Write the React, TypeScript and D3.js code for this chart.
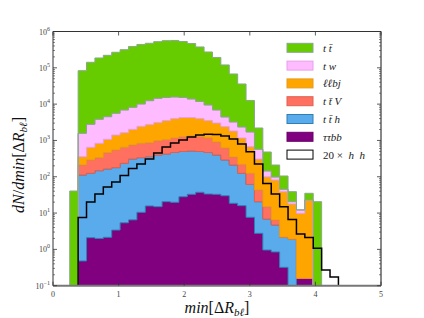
import React from "react";
import * as d3 from "d3";

// histogram binning of min[dR_bl]
const binStart = 0.255;
const binWidth = 0.128;
const nBins = 32;

// stacked backgrounds, one value per bin (bottom to top of the stack)
const tautaubb = [0, 0.48, 2.1, 2.0, 2.15, 3.4, 5.4, 6.5, 10.5, 15.7, 15, 20.6, 19.8, 28.2, 32.9, 37.3, 33.5, 32.9, 30, 18.6, 16, 7.65, 2.77, 0.96, 0.85, 0.32, 0, 0.16, 0.16, 0, 0, 0];
const tth = [0, 111.5, 123, 145, 162, 175, 230, 302, 325, 341, 383, 403, 446, 469, 480, 460, 432, 365, 260, 192, 109, 54, 17.8, 5.9, 3.85, 1.87, 1.93, 0, 0, 0, 0, 0];
const ttV = [0, 99, 165, 188, 296, 368, 413, 442, 500, 510, 587, 638, 703, 788, 814, 788, 703, 509, 330, 139, 95, 63, 22.6, 8.1, 1.75, 0, 0, 0, 0, 0, 0, 0];
const llbj = [0, 146, 358, 500, 616, 867, 989, 1278, 1620, 1887, 2141, 2486, 2858, 3000, 2958, 2742, 2379, 2120, 1803, 1473, 949, 548, 265, 85, 75, 36.6, 15.9, 9.7, 22.7, 0, 0, 0];
const tw = [0, 1217, 2138, 2993, 3434, 4185, 5265, 6157, 7635, 9696, 11360, 11690, 11710, 10955, 9585, 7803, 5932, 3875, 2003, 1401, 1181, 1037, 263, 44, 17, 6.4, 2.8, 2.34, 0, 0, 0, 0];
const ttbar = [40.5, 81800, 139200, 182800, 216500, 262400, 309100, 378800, 430000, 461600, 510500, 543800, 550300, 515800, 454100, 363200, 263500, 186100, 115600, 64400, 33550, 10900, 1632, 337, 112, 59.8, 18.2, 0, 12.2, 20.6, 0, 0];

// signal, already scaled by 20
const hh20 = [0, 7.55, 20.2, 33.5, 52.2, 71.8, 108, 169, 225, 308, 452, 661, 851, 1030, 1245, 1413, 1479, 1459, 1327, 1097, 800, 490, 225, 65.3, 33.5, 15, 6.65, 2.65, 2.12, 1.07, 0.27, 0.174];

const xTicks = [0, 1, 2, 3, 4, 5];
const yExponents = [-1, 0, 1, 2, 3, 4, 5, 6];

const series = [
  { key: "tautaubb", values: tautaubb, fill: "#800080", stroke: "#6a006a" },
  { key: "tth", values: tth, fill: "#5aabeb", stroke: "#2f7fb5" },
  { key: "ttV", values: ttV, fill: "#ff7060", stroke: "#e06050" },
  { key: "llbj", values: llbj, fill: "#ffa500", stroke: "#e69a20" },
  { key: "tw", values: tw, fill: "#ffbbff", stroke: "#e8a0e8" },
  { key: "ttbar", values: ttbar, fill: "#66cc00", stroke: "#8aa88a" },
];

const serif = "'Liberation Serif', 'DejaVu Serif', serif";
const DELTA = "\u0394";
const ELL = "\u2113";
const NB = "\u00a0";

export default function App() {
  const width = 424;
  const height = 318;
  const plot = { left: 53, right: 381, top: 31.5, bottom: 285.7 };

  const x = d3.scaleLinear().domain([0, 5]).range([plot.left, plot.right]);
  const y = d3.scaleLog().domain([0.1, 1e6]).range([plot.bottom, plot.top]);
  const yc = (v: number) => y(Math.max(v, 0.1));

  const edges = d3.range(nBins + 1).map((i) => binStart + i * binWidth);
  const rows = d3.range(nBins).map((i) => {
    const r: any = {};
    series.forEach((s) => (r[s.key] = s.values[i]));
    return r;
  });
  const stacked = d3.stack().keys(series.map((s) => s.key))(rows);

  const area = d3
    .area<any>()
    .curve(d3.curveStepAfter)
    .x((d) => x(d.x))
    .y0((d) => yc(d.y0))
    .y1((d) => yc(d.y1));

  const layers = stacked.map((layer, li) => {
    const pts = layer.map((s, i) => ({ x: edges[i], y0: s[0], y1: s[1] }));
    const last = pts[pts.length - 1];
    pts.push({ x: edges[nBins], y0: last.y0, y1: last.y1 });
    return { d: area(pts) as string, ...series[li] };
  });

  // hh step outline
  const first = hh20.findIndex((v) => v > 0);
  let hhPath = `M${x(edges[first])},${y(0.1)}`;
  for (let k = first; k < nBins; k++) {
    hhPath += `V${yc(hh20[k])}H${x(edges[k + 1])}`;
  }
  hhPath += `V${y(0.1)}`;

  const minorTicks: number[] = [];
  yExponents.slice(0, -1).forEach((e) => {
    for (let m = 2; m <= 9; m++) minorTicks.push(m * Math.pow(10, e));
  });

  const legend = [
    { fill: "#66cc00", stroke: "#8aa88a", label: [["t" + NB + "t\u0304", true]] },
    { fill: "#ffbbff", stroke: "#e8a0e8", label: [["t" + NB + "w", true]] },
    { fill: "#ffa500", stroke: "#e69a20", label: [[ELL + ELL + "bj", true]] },
    { fill: "#ff7060", stroke: "#e06050", label: [["t" + NB + "t\u0304" + NB + "V", true]] },
    { fill: "#5aabeb", stroke: "#2f7fb5", label: [["t" + NB + "t\u0304" + NB + "h", true]] },
    { fill: "#800080", stroke: "#6a006a", label: [["\u03c4\u03c4bb", true]] },
    { fill: "#ffffff", stroke: "#000000", label: [["20" + NB + "\u00d7" + NB + NB, false], ["h" + NB + NB + "h", true]] },
  ];

  return (
    <svg
      width={width}
      height={height}
      style={{ position: "absolute", left: 0, top: 0, background: "#fff" }}
      fontFamily={serif}
    >
      <defs>
        <clipPath id="plotClip">
          <rect x={plot.left} y={plot.top} width={plot.right - plot.left} height={plot.bottom - plot.top} />
        </clipPath>
      </defs>

      <g clipPath="url(#plotClip)">
        {layers.map((l) => (
          <path key={l.key} d={l.d} fill={l.fill} stroke={l.stroke} strokeWidth={1} />
        ))}
        <path d={hhPath} fill="none" stroke="#000" strokeWidth={1.5} />
      </g>

      {/* frame */}
      <line x1={plot.left} x2={plot.right} y1={plot.top} y2={plot.top} stroke="#333" strokeWidth={1} />
      <line x1={plot.left} x2={plot.left} y1={plot.top} y2={plot.bottom} stroke="#333" strokeWidth={1} />
      <line x1={plot.right} x2={plot.right} y1={plot.top} y2={plot.bottom} stroke="#111" strokeWidth={1} />
      <line x1={plot.left} x2={plot.right} y1={plot.bottom} y2={plot.bottom} stroke="#777" strokeWidth={2} />

      {/* x ticks */}
      {xTicks.map((t) => (
        <g key={"x" + t}>
          <line x1={x(t)} x2={x(t)} y1={plot.bottom} y2={plot.bottom - 4} stroke="#333" strokeWidth={0.8} />
          <line x1={x(t)} x2={x(t)} y1={plot.top} y2={plot.top + 4} stroke="#333" strokeWidth={0.8} />
          <text x={x(t)} y={296.5} fontSize={8} fill="#444" textAnchor="middle">
            {t}
          </text>
        </g>
      ))}

      {/* y ticks */}
      {yExponents.map((e) => {
        const ty = y(Math.pow(10, e));
        return (
          <g key={"y" + e}>
            <line x1={plot.left} x2={plot.left + 4} y1={ty} y2={ty} stroke="#333" strokeWidth={0.8} />
            <line x1={plot.right} x2={plot.right - 4} y1={ty} y2={ty} stroke="#333" strokeWidth={0.8} />
            <text x={50} y={ty + 3} fontSize={8} fill="#444" textAnchor="end">
              10
              <tspan dy={-4} fontSize={6}>
                {e < 0 ? "\u2212" + Math.abs(e) : String(e)}
              </tspan>
            </text>
          </g>
        );
      })}
      {minorTicks.map((m, i) => (
        <g key={"m" + i}>
          <line x1={plot.left} x2={plot.left + 2} y1={y(m)} y2={y(m)} stroke="#333" strokeWidth={0.6} />
          <line x1={plot.right} x2={plot.right - 2} y1={y(m)} y2={y(m)} stroke="#333" strokeWidth={0.6} />
        </g>
      ))}

      {/* legend */}
      {legend.map((item, i) => {
        const cy = 47.8 + i * 17.8;
        return (
          <g key={"lg" + i}>
            <rect x={287} y={cy - 4.5} width={26} height={9} fill={item.fill} stroke={item.stroke} strokeWidth={1} />
            <text x={323} y={cy + 4} fontSize={11} fill="#222">
              {item.label.map(([txt, it], j) => (
                <tspan key={j} fontStyle={it ? "italic" : "normal"}>
                  {txt as string}
                </tspan>
              ))}
            </text>
          </g>
        );
      })}

      {/* axis labels */}
      <text x={217} y={313} fontSize={16} textAnchor="middle" fill="#111">
        <tspan fontStyle="italic">min</tspan>
        <tspan>{"[" + DELTA}</tspan>
        <tspan fontStyle="italic">R</tspan>
        <tspan fontStyle="italic" fontSize={11} dy={3}>
          {"b" + ELL}
        </tspan>
        <tspan dy={-3}>]</tspan>
      </text>
      <text transform="translate(24,165) rotate(-90)" fontSize={16} textAnchor="middle" fill="#111">
        <tspan fontStyle="italic">dN</tspan>
        <tspan>/</tspan>
        <tspan fontStyle="italic">dmin</tspan>
        <tspan>{"[" + DELTA}</tspan>
        <tspan fontStyle="italic">R</tspan>
        <tspan fontStyle="italic" fontSize={11} dy={3}>
          {"b" + ELL}
        </tspan>
        <tspan dy={-3}>]</tspan>
      </text>
    </svg>
  );
}
